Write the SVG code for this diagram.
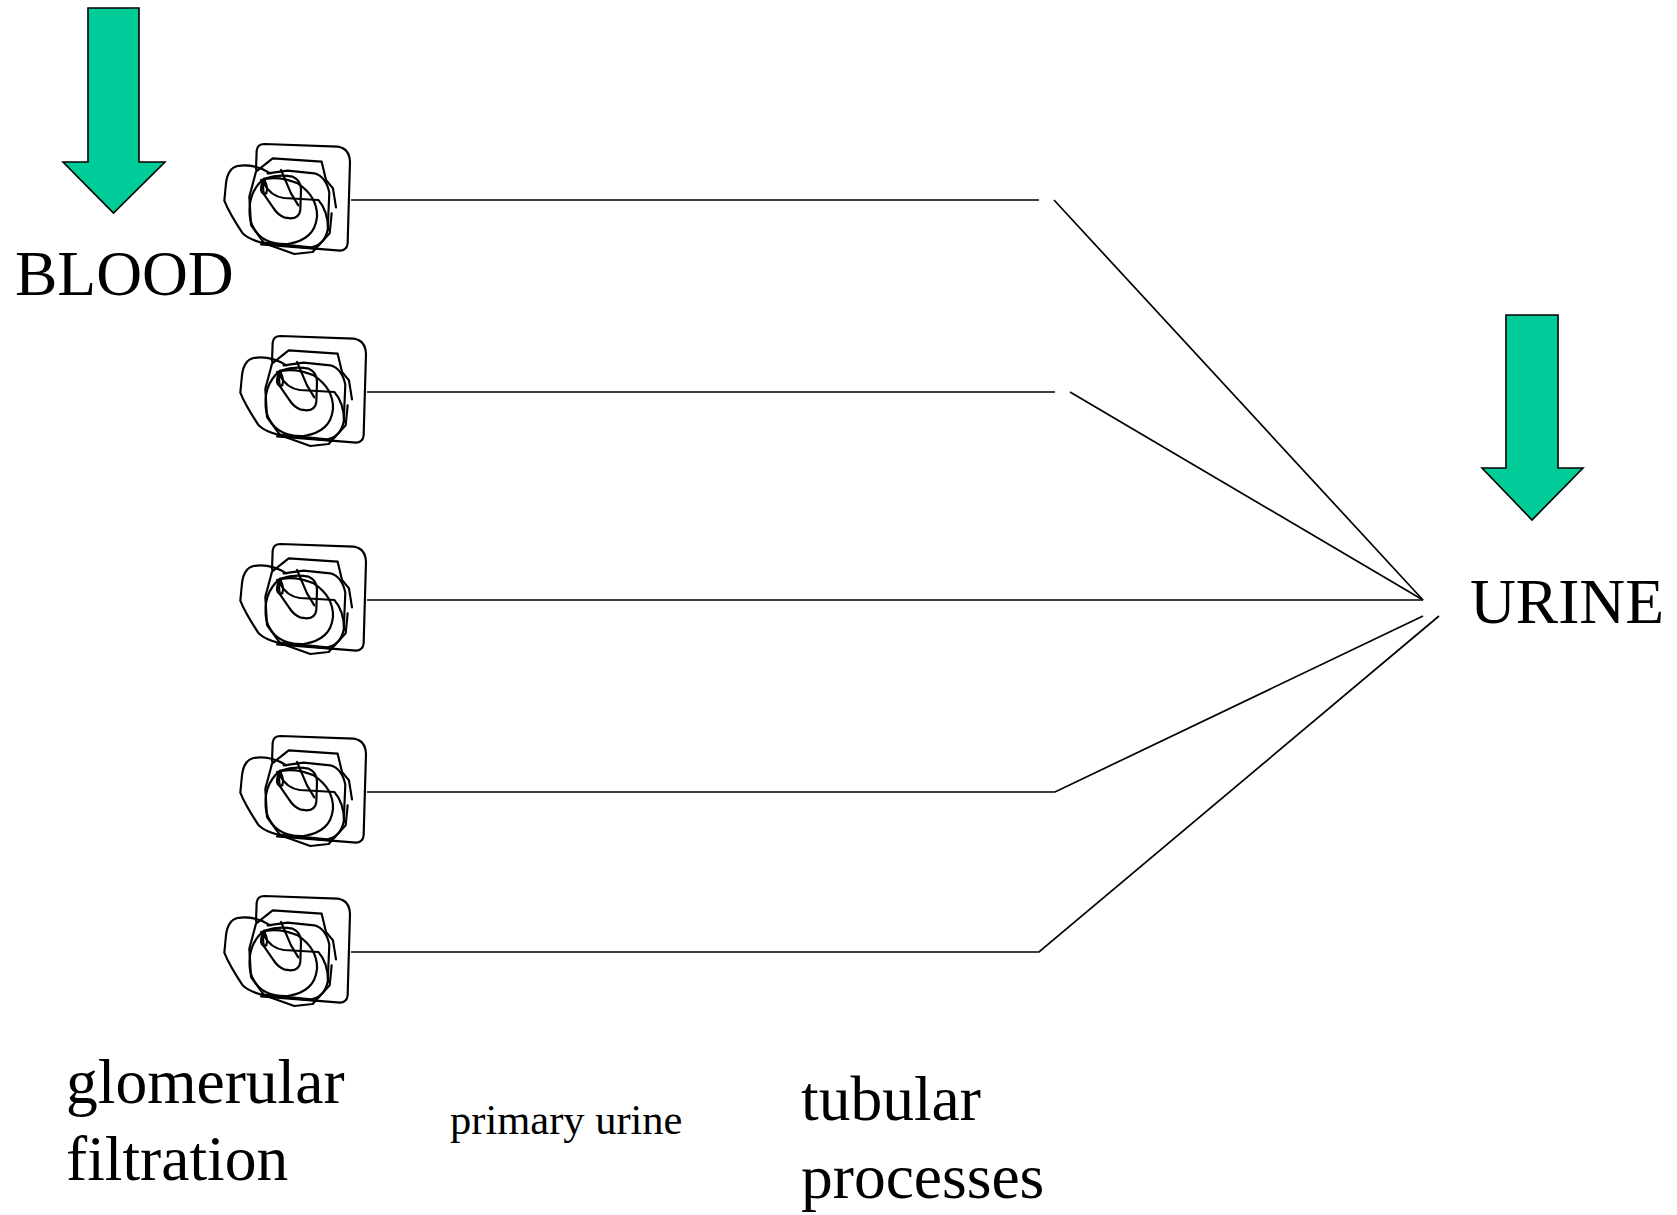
<svg xmlns="http://www.w3.org/2000/svg" xmlns:xlink="http://www.w3.org/1999/xlink" width="1677" height="1215" viewBox="0 0 1677 1215">
  <style>
    .lbl { font-family: "Liberation Serif", "Times New Roman", serif; fill: #000; }
    .big { font-size: 63.5px; }
    .title { font-size: 63.5px; }
    .small { font-size: 42.5px; }
    .wire { fill: none; stroke: #000; stroke-width: 1.7; stroke-linejoin: miter; }
    .flow { fill: #00CC99; stroke: #000; stroke-width: 1.6; stroke-linejoin: miter; }
    .scrib { fill: none; stroke: #000; stroke-width: 6.5; stroke-linecap: round; stroke-linejoin: round; }
  </style>
  <defs>
    <!-- tangled capillary knot; origin sits where the tubule leaves the knot -->
    <g id="glom">
      <g transform="translate(-140 -70) scale(0.3333)">
        <path class="scrib" d="M135 118 L137 62 Q139 42 160 42 L380 50 Q415 55 417 95 L410 340 Q408 360 388 362 L150 343"/>
        <path class="scrib" d="M178 130 Q130 100 80 108 Q50 115 45 160 L40 212 Q55 250 95 310 Q115 330 160 340 L315 356"/>
        <path class="scrib" d="M375 232 L366 175 L345 150 L332 95 L185 85 L135 125 L115 200 L120 285 L160 340 L250 372 L305 366 L356 310 L362 250"/>
        <path class="scrib" d="M150 150 Q200 135 260 160 Q320 200 318 260 Q312 330 230 342 Q140 345 118 270 Q105 190 160 145"/>
        <path class="scrib" d="M170 130 L230 122 L310 130 Q345 140 355 188 L350 300 Q340 345 300 352 L155 338"/>
        <path class="scrib" d="M165 145 Q200 132 245 140 Q270 150 270 180 L268 240 Q265 265 240 265 L222 263 Q200 255 186 232 L160 195 Q150 165 165 145"/>
        <path class="scrib" d="M210 120 L240 190 L262 226"/>
        <path class="scrib" d="M158 160 Q180 200 218 204 L322 210 Q350 240 352 300"/>
        <path class="scrib" d="M166 146 Q150 152 150 180 Q154 196 166 190 Q172 170 160 150"/>
      </g>
    </g>
  </defs>

  <!-- inflow / outflow arrows -->
  <g id="arrow-blood">
    <path class="flow" d="M88 8 H139 V162 H165 L113.5 213 L63 162 H88 Z"/>
  </g>
  <g id="arrow-urine">
    <path class="flow" d="M1506 315 H1558 V468 H1583 L1532 520 L1482 468 H1506 Z"/>
  </g>

  <!-- glomeruli -->
  <g id="glomerulus-1"><use xlink:href="#glom" href="#glom" x="351" y="200"/></g>
  <g id="glomerulus-2"><use xlink:href="#glom" href="#glom" x="367" y="392"/></g>
  <g id="glomerulus-3"><use xlink:href="#glom" href="#glom" x="367" y="600"/></g>
  <g id="glomerulus-4"><use xlink:href="#glom" href="#glom" x="367" y="792"/></g>
  <g id="glomerulus-5"><use xlink:href="#glom" href="#glom" x="351" y="952"/></g>

  <!-- tubules converging on the collecting point -->
  <g id="connectors">
    <path class="wire" d="M351 200 H1039"/>
    <path class="wire" d="M1054 200 L1423 600"/>
    <path class="wire" d="M367 392 H1055"/>
    <path class="wire" d="M1070 392 L1423 600"/>
    <path class="wire" d="M367 600 H1423"/>
    <path class="wire" d="M367 792 H1055 L1423 616"/>
    <path class="wire" d="M351 952 H1039 L1439 616"/>
  </g>

  <!-- labels -->
  <g id="labels">
    <text class="lbl title" x="15" y="295">BLOOD</text>
    <text class="lbl title" x="1470" y="623">URINE</text>
    <text class="lbl big" x="66" y="1103">glomerular</text>
    <text class="lbl big" x="66" y="1180">filtration</text>
    <text class="lbl small" x="450" y="1134">primary urine</text>
    <text class="lbl big" x="801" y="1120">tubular</text>
    <text class="lbl big" x="801" y="1198">processes</text>
  </g>
</svg>
